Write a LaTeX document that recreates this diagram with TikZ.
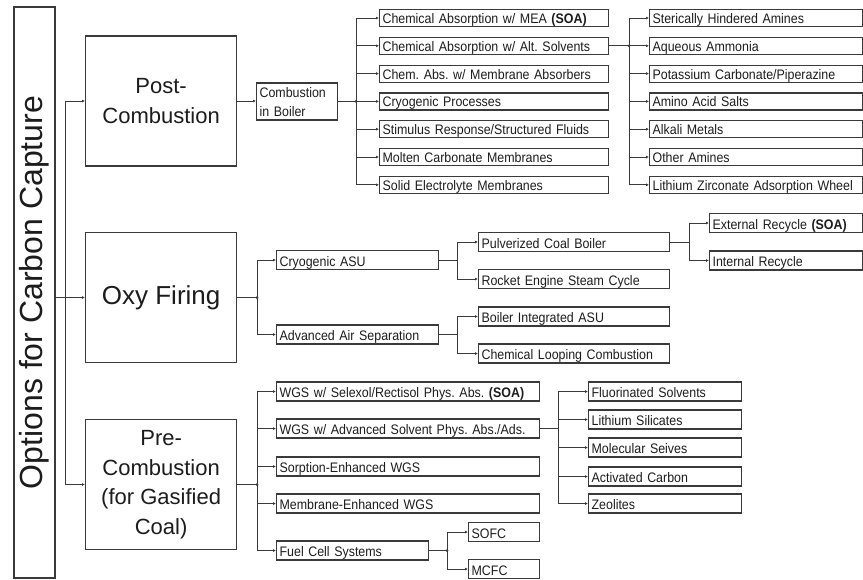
\documentclass[tikz,border=0pt]{standalone}
\usepackage{fontspec}
\usepackage{graphicx}
\setmainfont{Liberation Sans}
\newfontfamily\itemfont[FakeStretch=0.9]{Liberation Sans}
\usetikzlibrary{arrows.meta}
\definecolor{edge}{HTML}{3A3A3A}
\definecolor{ink}{HTML}{1C1C1C}
\frenchspacing

\begin{document}
\begin{tikzpicture}[x=1pt,y=-1pt,
  bigbox/.style={draw=edge, line width=1.3pt, minimum width=151pt, minimum height=130pt,
    align=center, text=ink, font=\fontsize{22}{29.5}\selectfont, anchor=west, inner sep=0pt},
  item/.style={draw=edge, line width=1.2pt, anchor=west, inner xsep=3pt, inner ysep=0pt,
    text width=#1, align=left, text=ink, minimum height=19pt,
    text height=12pt, text depth=0pt,
    font=\itemfont\fontsize{13.8}{15}\selectfont},
  pitem/.style={item=#1, minimum height=17pt, text height=11pt},
  link/.style={draw=edge, line width=0.9pt},
  arr/.style={link, -{Latex[length=3pt,width=3pt]}},
  jdot/.style={fill=edge, draw=none, circle, inner sep=0pt, minimum size=3pt}
]
\useasboundingbox (0,0) rectangle (863,579);

% title column
\node[draw=edge, line width=1.3pt, minimum width=41pt, minimum height=571pt, inner sep=0pt,
  text=ink, font=\fontsize{32}{36}\selectfont] (opt) at (34.5,292.5)
  {\rotatebox{90}{Options for Carbon Capture}};

% main categories
\node[bigbox] (post) at (85,101) {Post-\\Combustion};
\node[bigbox, font=\fontsize{26}{30}\selectfont] (oxy) at (85,297.5) {Oxy Firing};
\node[bigbox] (pre) at (85,484.5) {Pre-\\Combustion\\(for Gasified\\Coal)};

% post-combustion branch
\node[item=75pt, minimum height=37pt, text height=9pt, text depth=18pt,
  font=\itemfont\fontsize{13.8}{19.5}\selectfont] (boiler) at (256,101.5) {Combustion\\in Boiler};

\node[pitem=223pt] (p1) at (379,18.0)  {Chemical Absorption w/ MEA \textbf{(SOA)}};
\node[pitem=223pt] (p2) at (379,45.8)  {Chemical Absorption w/ Alt. Solvents};
\node[pitem=223pt] (p3) at (379,73.6)  {Chem. Abs. w/ Membrane Absorbers};
\node[pitem=223pt] (p4) at (379,101.4) {Cryogenic Processes};
\node[pitem=223pt] (p5) at (379,129.2) {Stimulus Response/Structured Fluids};
\node[pitem=223pt] (p6) at (379,157.0) {Molten Carbonate Membranes};
\node[pitem=223pt] (p7) at (379,184.8) {Solid Electrolyte Membranes};

\node[pitem=207pt] (s1) at (649,18.0)  {Sterically Hindered Amines};
\node[pitem=207pt] (s2) at (649,45.8)  {Aqueous Ammonia};
\node[pitem=207pt] (s3) at (649,73.6)  {Potassium Carbonate/Piperazine};
\node[pitem=207pt] (s4) at (649,101.4) {Amino Acid Salts};
\node[pitem=207pt] (s5) at (649,129.2) {Alkali Metals};
\node[pitem=207pt] (s6) at (649,157.0) {Other Amines};
\node[pitem=207pt] (s7) at (649,184.8) {Lithium Zirconate Adsorption Wheel};

% oxy-firing branch
\node[item=156pt] (cryo) at (276,260)   {Cryogenic ASU};
\node[item=156pt] (aas)  at (276,334.5) {Advanced Air Separation};
\node[item=185pt] (pcb)    at (478,242)   {Pulverized Coal Boiler};
\node[item=185pt] (rocket) at (478,279)   {Rocket Engine Steam Cycle};
\node[item=185pt] (bia)    at (478,316.5) {Boiler Integrated ASU};
\node[item=185pt] (clc)    at (478,353.5) {Chemical Looping Combustion};
\node[item=147pt] (ext) at (709,223)   {External Recycle \textbf{(SOA)}};
\node[item=147pt] (int) at (709,260.5) {Internal Recycle};

% pre-combustion branch
\node[item=257pt] (w1) at (276,391.5) {WGS w/ Selexol/Rectisol Phys. Abs. \textbf{(SOA)}};
\node[item=257pt] (w2) at (276,428.5) {WGS w/ Advanced Solvent Phys. Abs./Ads.};
\node[item=257pt] (w3) at (276,466.5) {Sorption-Enhanced WGS};
\node[item=257pt] (w4) at (276,503.5) {Membrane-Enhanced WGS};
\node[item=146pt] (w5) at (276,550.5) {Fuel Cell Systems};
\node[item=65pt] (sofc) at (468,532) {SOFC};
\node[item=65pt] (mcfc) at (468,569) {MCFC};
\node[item=147pt] (f1) at (588,391.5) {Fluorinated Solvents};
\node[item=147pt] (f2) at (588,419.5) {Lithium Silicates};
\node[item=147pt] (f3) at (588,447.5) {Molecular Seives};
\node[item=147pt] (f4) at (588,476.5) {Activated Carbon};
\node[item=147pt] (f5) at (588,503.5) {Zeolites};

% junction points of the elbow connectors
\coordinate (jm)  at (65,297.5);
\coordinate (jb)  at (356,101.4);
\coordinate (js)  at (629,45.8);
\coordinate (jo)  at (257,297.5);
\coordinate (jc)  at (457,260);
\coordinate (ja)  at (457,334.5);
\coordinate (jp)  at (689,242);
\coordinate (jw)  at (257,484.5);
\coordinate (jf)  at (558,428.5);
\coordinate (jfc) at (447,550.5);

% connectors
\draw[arr] (opt.east |- oxy.west) -- (oxy.west);
\draw[arr] (jm) |- (post.west);
\draw[arr] (jm) |- (pre.west);

\draw[arr] (post.east) -- (post.east -| boiler.west);
\draw[link] (boiler.east |- jb) -- (jb);
\foreach \i in {1,...,7} \draw[arr] (jb) |- (p\i.west);
\draw[link] (p2.east) -- (js);
\foreach \i in {1,...,7} \draw[arr] (js) |- (s\i.west);

\draw[link] (oxy.east) -- (jo);
\draw[arr] (jo) |- (cryo.west);
\draw[arr] (jo) |- (aas.west);
\draw[link] (cryo.east) -- (jc);
\draw[arr] (jc) |- (pcb.west);
\draw[arr] (jc) |- (rocket.west);
\draw[link] (aas.east) -- (ja);
\draw[arr] (ja) |- (bia.west);
\draw[arr] (ja) |- (clc.west);
\draw[link] (pcb.east) -- (jp);
\draw[arr] (jp) |- (ext.west);
\draw[arr] (jp) |- (int.west);

\draw[link] (pre.east) -- (jw);
\foreach \i in {1,...,5} \draw[arr] (jw) |- (w\i.west);
\draw[link] (w2.east) -- (jf);
\foreach \i in {1,...,5} \draw[arr] (jf) |- (f\i.west);
\draw[link] (w5.east) -- (jfc);
\draw[arr] (jfc) |- (sofc.west);
\draw[arr] (jfc) |- (mcfc.west);

% junction marks
\foreach \j in {jb,js,jo,jw,jfc} \node[jdot] at (\j) {};
\end{tikzpicture}
\end{document}
